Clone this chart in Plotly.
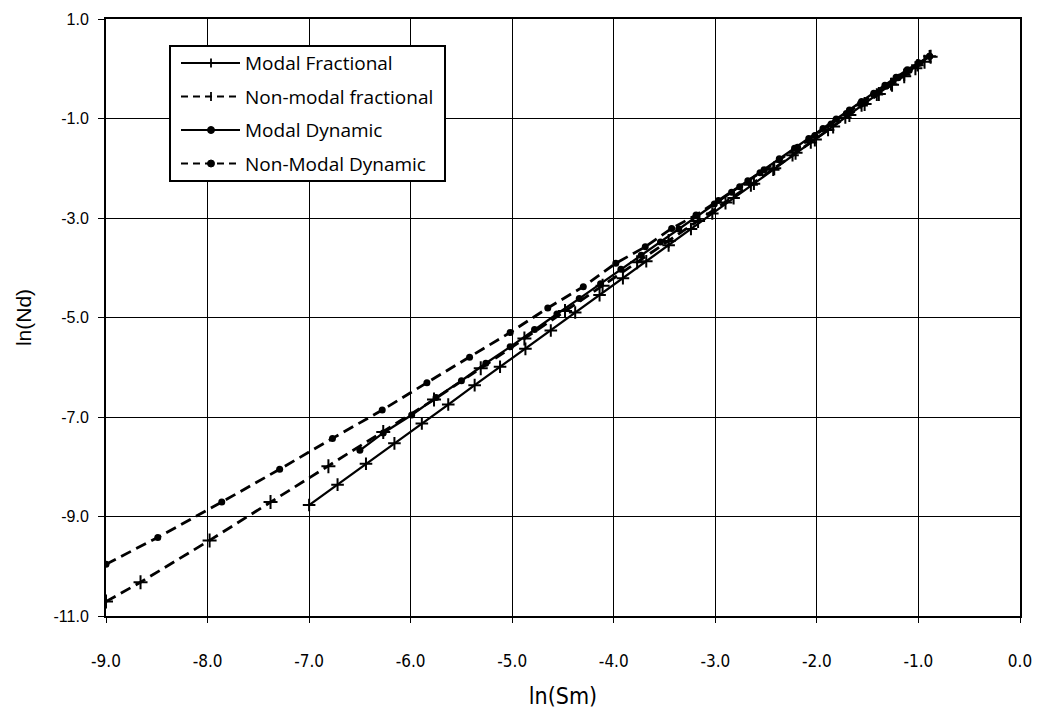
import plotly.graph_objects as go

# ln(Sm) / ln(Nd) series
modal_frac_x = [-7.00, -6.72, -6.44, -6.16, -5.89, -5.63, -5.37, -5.12, -4.87, -4.62,
                -4.38, -4.14, -3.91, -3.68, -3.46, -3.24, -3.03, -2.82, -2.62, -2.43,
                -2.24, -2.06, -1.89, -1.72, -1.56, -1.41, -1.27, -1.14, -1.01, -0.89]
modal_frac_y = [-8.77, -8.36, -7.94, -7.53, -7.13, -6.75, -6.36, -5.99, -5.63, -5.26,
                -4.90, -4.55, -4.21, -3.87, -3.55, -3.22, -2.91, -2.60, -2.31, -2.03,
                -1.74, -1.48, -1.23, -0.98, -0.74, -0.52, -0.31, -0.12, 0.07, 0.25]

nonmodal_frac_x = [-9.00, -8.66, -7.98, -7.38, -6.81, -6.27, -5.77, -5.31, -4.88, -4.48,
                   -4.11, -3.77, -3.46, -3.17, -2.90, -2.65, -2.42, -2.21, -2.02, -1.84,
                   -1.68, -1.53, -1.39, -1.26, -1.14, -1.03, -0.94, -0.88]
nonmodal_frac_y = [-10.71, -10.32, -9.48, -8.71, -7.99, -7.30, -6.65, -6.02, -5.42, -4.87,
                   -4.36, -3.89, -3.46, -3.06, -2.69, -2.33, -2.00, -1.69, -1.42, -1.16,
                   -0.93, -0.71, -0.51, -0.32, -0.15, 0.01, 0.14, 0.24]

modal_dyn_x = [-6.50, -6.27, -5.99, -5.75, -5.50, -5.26, -5.02, -4.78, -4.56, -4.34,
               -4.13, -3.93, -3.73, -3.54, -3.36, -3.18, -3.01, -2.84, -2.68, -2.52,
               -2.37, -2.22, -2.08, -1.94, -1.81, -1.68, -1.56, -1.44, -1.33, -1.22,
               -1.11, -1.00, -0.89]
modal_dyn_y = [-7.67, -7.32, -6.96, -6.61, -6.27, -5.92, -5.59, -5.24, -4.93, -4.62,
               -4.32, -4.03, -3.75, -3.48, -3.22, -2.96, -2.72, -2.48, -2.25, -2.03,
               -1.81, -1.60, -1.40, -1.20, -1.01, -0.83, -0.66, -0.49, -0.33, -0.17,
               -0.02, 0.12, 0.25]

nonmodal_dyn_x = [-9.00, -8.49, -7.86, -7.29, -6.77, -6.28, -5.84, -5.42, -5.02, -4.65,
                  -4.30, -3.98, -3.69, -3.43, -3.19, -2.97, -2.76, -2.56, -2.37, -2.19,
                  -2.02, -1.86, -1.71, -1.57, -1.44, -1.32, -1.20, -1.09, -0.99, -0.89]
nonmodal_dyn_y = [-9.96, -9.42, -8.71, -8.05, -7.43, -6.86, -6.31, -5.80, -5.30, -4.81,
                  -4.38, -3.91, -3.58, -3.21, -2.94, -2.65, -2.37, -2.09, -1.83, -1.58,
                  -1.34, -1.11, -0.90, -0.70, -0.52, -0.35, -0.18, -0.03, 0.11, 0.25]

series_names = ["Modal Fractional", "Non-modal fractional", "Modal Dynamic", "Non-Modal Dynamic"]

x_ticks = [-9.0, -8.0, -7.0, -6.0, -5.0, -4.0, -3.0, -2.0, -1.0, 0.0]
y_ticks = [1.0, -1.0, -3.0, -5.0, -7.0, -9.0, -11.0]

SANS = "Liberation Sans"
NARROW = "DejaVu Sans Condensed, Roboto, Liberation Sans"
TEXT = "Open Sans"
DASH = "11px,6px"

W, H = 1044, 709
ML, MR, MT, MB = 106, 24, 19, 93
PW, PH = W - ML - MR, H - MT - MB

styles = [
    dict(dash="solid", width=2.3, symbol="cross-thin", msize=9),
    dict(dash=DASH, width=2.8, symbol="cross-thin", msize=10),
    dict(dash="solid", width=2.3, symbol="circle", msize=7),
    dict(dash=DASH, width=2.8, symbol="circle", msize=7),
]
data = [(modal_frac_x, modal_frac_y), (nonmodal_frac_x, nonmodal_frac_y),
        (modal_dyn_x, modal_dyn_y), (nonmodal_dyn_x, nonmodal_dyn_y)]

fig = go.Figure()
for name, (xs, ys), st in zip(series_names, data, styles):
    if st["symbol"] == "circle":
        marker = dict(symbol="circle", size=st["msize"], color="black")
    else:
        marker = dict(symbol=st["symbol"], size=st["msize"], line=dict(color="black", width=2))
    fig.add_trace(go.Scatter(
        x=xs, y=ys, name=name, mode="lines+markers", showlegend=False,
        line=dict(color="black", width=st["width"], dash=st["dash"]),
        marker=marker))


def px_x(p):
    return (p - ML) / PW


def px_y(p):
    return 1 - (p - MT) / PH


# boxed key in the upper-left corner of the plot
shapes = [dict(type="rect", xref="paper", yref="paper",
               x0=px_x(170), x1=px_x(445), y0=px_y(181), y1=px_y(46),
               fillcolor="white", line=dict(color="black", width=2), layer="above")]
annotations = []
for i, (name, st) in enumerate(zip(series_names, styles)):
    yc = 63 + 33.5 * i
    shapes.append(dict(type="line", xref="paper", yref="paper",
                       x0=px_x(181), x1=px_x(240), y0=px_y(yc), y1=px_y(yc),
                       line=dict(color="black", width=2,
                                 dash="solid" if st["dash"] == "solid" else "7px,5px"),
                       layer="above"))
    if st["symbol"] == "circle":
        shapes.append(dict(type="circle", xref="paper", yref="paper",
                           x0=px_x(207.5), x1=px_x(214.5), y0=px_y(yc + 3.5), y1=px_y(yc - 3.5),
                           fillcolor="black", line=dict(color="black", width=1), layer="above"))
    else:
        shapes.append(dict(type="line", xref="paper", yref="paper",
                           x0=px_x(211), x1=px_x(211), y0=px_y(yc + 4.5), y1=px_y(yc - 4.5),
                           line=dict(color="black", width=1.8), layer="above"))
    annotations.append(dict(xref="paper", yref="paper", x=px_x(243), y=px_y(yc),
                            xanchor="left", yanchor="middle", showarrow=False,
                            text=name, font=dict(family=TEXT, size=19, color="black")))

fig.update_layout(
    width=W, height=H,
    margin=dict(l=ML, r=MR, t=MT, b=MB, autoexpand=False),
    paper_bgcolor="white", plot_bgcolor="white",
    font=dict(family=SANS, color="black", size=16),
    showlegend=False,
    shapes=shapes, annotations=annotations,
)
fig.update_xaxes(
    range=[-9, 0], tickvals=x_ticks, ticktext=[f"{v:.1f}" for v in x_ticks],
    showgrid=True, gridcolor="black", gridwidth=1,
    showline=True, linecolor="black", linewidth=2, mirror=True,
    ticks="outside", ticklen=5, tickcolor="black",
    zeroline=False, tickfont=dict(family=NARROW, size=17),
    ticklabelstandoff=24, automargin=False,
    title=dict(text="ln(Sm)", font=dict(family=NARROW, size=23), standoff=18),
)
fig.update_yaxes(
    range=[-11, 1], tickvals=y_ticks, ticktext=[f"{v:.1f}" for v in y_ticks],
    showgrid=True, gridcolor="black", gridwidth=1,
    showline=True, linecolor="black", linewidth=2, mirror=True,
    ticks="outside", ticklen=6, tickcolor="black",
    zeroline=False, tickfont=dict(family=SANS, size=16),
    ticklabelstandoff=6, automargin=False,
    title=dict(text="ln(Nd)", font=dict(family=SANS, size=21), standoff=16),
)

fig.write_html("out.html")
